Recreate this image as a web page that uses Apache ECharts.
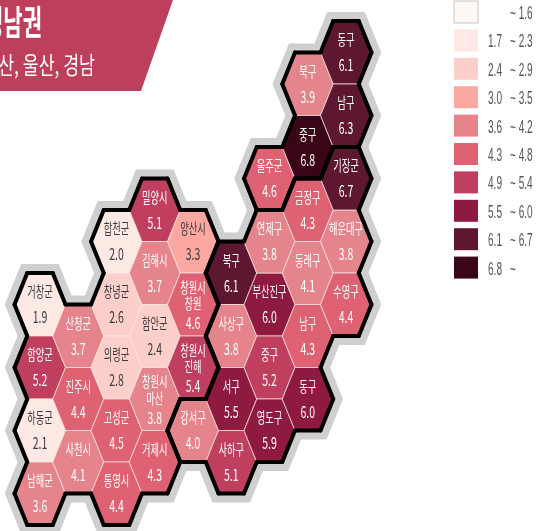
<!DOCTYPE html>
<html>
<head>
<meta charset="utf-8">
<style>html,body{margin:0;padding:0;background:#fff}#chart{width:545px;height:531px}</style>
<script src="https://cdn.jsdelivr.net/npm/echarts@6/dist/echarts.min.js"></script>
</head>
<body>
<div id="chart"></div>
<script>
// tile map: names, values, tile column, tile half-row, region (0 경남, 1 부산, 2 울산)
var names = ['거창군','함양군','하동군','남해군','산청군','진주시','사천시','합천군','창녕군','의령군','고성군','통영시',
  '밀양시','김해시','함안군','창원시\n마산','거제시','양산시','창원시\n창원','창원시\n진해',
  '강서구','북구','사상구','서구','사하구','부산진구','중구','영도구','연제구','동래구','남구','동구','금정구','해운대구','수영구','기장군',
  '울주군','북구','중구','동구','남구'];
var values = [1.9,5.2,2.1,3.6,3.7,4.4,4.1,2.0,2.6,2.8,4.5,4.4,
  5.1,3.7,2.4,3.8,4.3,3.3,4.6,5.4,
  4.0,6.1,3.8,5.5,5.1,6.0,5.2,5.9,3.8,4.1,4.3,6.0,4.3,3.8,4.4,6.7,
  4.6,3.9,6.8,6.1,6.3];
var cols = [0,0,0,0,1,1,1,2,2,2,2,2,
  3,3,3,3,3,4,4,4,
  4,5,5,5,5,6,6,6,6,7,7,7,7,8,8,8,
  6,7,7,8,8];
var rows = [8,10,12,14,9,11,13,6,8,10,12,14,
  5,7,9,11,13,6,8,10,
  12,7,9,11,13,8,10,12,6,7,9,11,5,6,8,4,
  4,1,3,0,2];
var regions = [0,0,0,0,0,0,0,0,0,0,0,0,
  0,0,0,0,0,0,0,0,
  1,1,1,1,1,1,1,1,1,1,1,1,1,1,1,1,
  2,2,2,2,2];

var legendLow = ['','1.7','2.4','3.0','3.6','4.3','4.9','5.5','6.1','6.8'];
var legendHigh = ['1.6','2.3','2.9','3.5','4.2','4.8','5.4','6.0','6.7',''];
var legendColors = ['#fdf8f4','#fde9e3','#fdcfcb','#fba8a0','#e5848a','#df6272','#c03f5e','#8e1a3f','#5e1730','#3a0519'];

var titleText = '영남권';
var subtitleText = '부산, 울산, 경남';

var font = '"Noto Sans CJK KR"';
var tiles = names.map(function(n, i) { return [cols[i], rows[i], values[i], n, regions[i]]; });

// corners of a tile in data units, clockwise from the left
function corners(c, r) {
  return [[c - 2/3, r], [c - 1/3, r - 1], [c + 1/3, r - 1], [c + 2/3, r], [c + 1/3, r + 1], [c - 1/3, r + 1]];
}
// neighbour across each edge, same order as corners
var sides = [[-1,-1],[0,-2],[1,-1],[1,1],[0,2],[-1,1]];

function regionAt(c, r) {
  for (var i = 0; i < cols.length; i++) {
    if (cols[i] === c && rows[i] === r) return regions[i];
  }
  return -1;
}

function hexPoints(api, c, r) {
  return corners(c, r).map(function(p) { return api.coord(p); });
}

function renderHalo(params, api) {
  return {
    type: 'polygon',
    shape: { points: hexPoints(api, api.value(0), api.value(1)) },
    style: { fill: '#cfcfcf', stroke: '#cfcfcf', lineWidth: 18, lineJoin: 'miter' }
  };
}

function renderTile(params, api) {
  var c = api.value(0), r = api.value(1);
  var v = api.value(2);
  var p = api.coord([c, r]);
  var name = names[params.dataIndex];
  var txt = v <= 3.3 ? '#3a3a3a' : '#fff';
  var two = name.indexOf('\n') >= 0;
  return {
    type: 'group',
    children: [{
      type: 'polygon',
      shape: { points: hexPoints(api, c, r) },
      style: { fill: api.visual('color'), stroke: 'rgba(255,235,235,0.7)', lineWidth: 1 }
    }, {
      type: 'text', x: p[0], y: p[1] + (two ? -9 : -13), scaleX: 0.66, scaleY: 1.05,
      style: { text: name, fill: txt, font: '14px ' + font, align: 'center', verticalAlign: 'middle', lineHeight: 16 }
    }, {
      type: 'text', x: p[0], y: p[1] + (two ? 19 : 13), scaleX: 0.7, scaleY: 1.05,
      style: { text: v.toFixed(1), fill: txt, font: '15px ' + font, align: 'center', verticalAlign: 'middle' }
    }]
  };
}

function renderBorder(params, api) {
  var c = api.value(0), r = api.value(1);
  var reg = api.value(4);
  var pts = hexPoints(api, c, r);
  var kids = [];
  sides.forEach(function(s, k) {
    if (regionAt(c + s[0], r + s[1]) !== reg) {
      kids.push({
        type: 'line',
        shape: { x1: pts[k][0], y1: pts[k][1], x2: pts[(k + 1) % 6][0], y2: pts[(k + 1) % 6][1] },
        style: { stroke: '#000', lineWidth: 4, lineCap: 'round' }
      });
    }
  });
  return { type: 'group', children: kids };
}

// legend and banner
var graphics = [{
  type: 'polygon', shape: { points: [[0,0],[173,0],[141,91],[0,91]] }, style: { fill: '#be3f5c' }
}, {
  type: 'text', x: 42, y: 22, scaleX: 0.7, scaleY: 1.15,
  style: { text: titleText, fill: '#fff', font: 'bold 30px ' + font, align: 'right', verticalAlign: 'middle' }
}, {
  type: 'text', x: 95, y: 65, scaleX: 0.72, scaleY: 1,
  style: { text: subtitleText, fill: '#fff', font: '24px ' + font, align: 'right', verticalAlign: 'middle' }
}];
legendColors.forEach(function(col, i) {
  var y = 1 + i * 28.4;
  graphics.push({
    type: 'rect', shape: { x: 454, y: y, width: 24, height: 22 },
    style: { fill: col, stroke: i === 0 ? '#c8c8c8' : null, lineWidth: 1 }
  });
  if (legendLow[i]) {
    graphics.push({
      type: 'text', x: 488, y: y + 13, scaleX: 0.56, scaleY: 1,
      style: { text: legendLow[i], fill: '#555', font: '18px "Liberation Sans"', verticalAlign: 'middle' }
    });
  }
  graphics.push({
    type: 'text', x: 510, y: y + 13, scaleX: 0.56, scaleY: 1,
    style: { text: '~ ' + legendHigh[i], fill: '#555', font: '18px "Liberation Sans"', verticalAlign: 'middle' }
  });
});

var chart = echarts.init(document.getElementById('chart'));
chart.setOption({
  animation: false,
  grid: { left: 40, right: 199, top: 52.5, bottom: 37.5 },
  xAxis: { type: 'value', min: 0, max: 8, show: false },
  yAxis: { type: 'value', min: 0, max: 14, inverse: true, show: false },
  tooltip: { show: false },
  visualMap: {
    show: false, type: 'piecewise', dimension: 2, seriesIndex: 1,
    pieces: legendColors.map(function(col, i) {
      var p = { color: col };
      if (legendLow[i]) p.gte = parseFloat(legendLow[i]);
      if (legendHigh[i]) p.lte = parseFloat(legendHigh[i]);
      return p;
    })
  },
  graphic: graphics,
  series: [
    { type: 'custom', coordinateSystem: 'cartesian2d', data: tiles, renderItem: renderHalo, silent: true, z: 1,
      encode: { x: 0, y: 1 } },
    { type: 'custom', coordinateSystem: 'cartesian2d', data: tiles, renderItem: renderTile, silent: true, z: 2,
      encode: { x: 0, y: 1 } },
    { type: 'custom', coordinateSystem: 'cartesian2d', data: tiles, renderItem: renderBorder, silent: true, z: 3,
      encode: { x: 0, y: 1 } }
  ]
});
</script>
</body>
</html>
